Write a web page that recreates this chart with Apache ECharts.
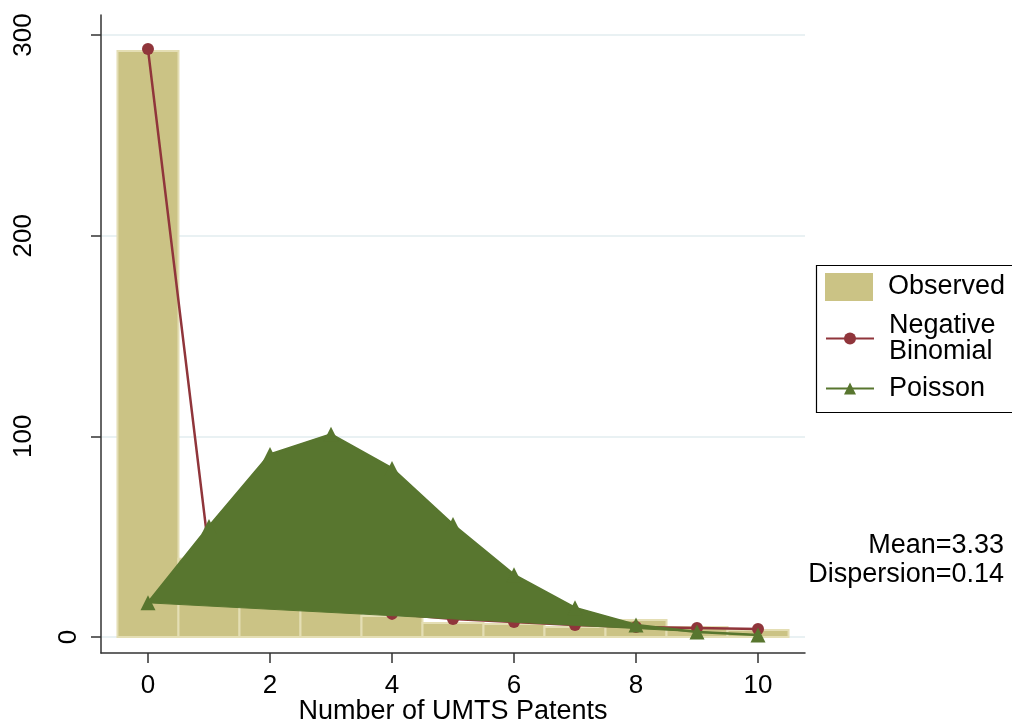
<!DOCTYPE html>
<html><head><meta charset="utf-8">
<script src="https://cdn.jsdelivr.net/npm/echarts@6/dist/echarts.min.js"></script>
<style>html,body{margin:0;padding:0;background:#fff}#c{width:1012px;height:723px}</style>
</head><body><div id="c"></div>
<script>
var counts = [0,1,2,3,4,5,6,7,8,9,10];
var observed = [292, 39, 22, 15, 10.5, 7, 6.5, 5, 8.5, 5, 3.5];
var negBinomial = [293, 42, 24, 16, 11.5, 9, 7.5, 6, 5, 4.5, 4];
var poisson = [17, 55, 91, 101, 84, 56, 31, 14.5, 6, 2.5, 1];
var xTicks = [0,2,4,6,8,10];
var yTicks = [0,100,200,300];
var notes = ['Mean=3.33', 'Dispersion=0.14'];

var FONT = 'Liberation Sans, Arial, sans-serif';
var TAN = '#cbc385', RED = '#90353b', GREEN = '#58762f', AXIS = '#333';

var chart = echarts.init(document.getElementById('c'));
chart.setOption({
  animation: false,
  textStyle: {fontFamily: FONT},
  grid: {left: 101, right: 207, top: 15, bottom: 70, outerBoundsMode: 'none', containLabel: false},
  xAxis: {
    type: 'value', min: -0.77, max: 10.77,
    name: 'Number of UMTS Patents', nameLocation: 'middle', nameGap: 45, nameMoveOverlap: false,
    nameTextStyle: {fontSize: 27, color: '#000', fontFamily: FONT},
    axisLine: {show: true, onZero: false, lineStyle: {color: AXIS, width: 1.5}},
    axisTick: {show: true, length: 10, customValues: xTicks, lineStyle: {color: AXIS, width: 1.5}},
    axisLabel: {customValues: xTicks, fontSize: 26, color: '#000', margin: 20, fontFamily: FONT},
    splitLine: {show: false}
  },
  yAxis: {
    type: 'value', min: -8, max: 310,
    axisLine: {show: true, onZero: false, lineStyle: {color: AXIS, width: 1.5}},
    axisTick: {show: true, length: 10, customValues: yTicks, lineStyle: {color: AXIS, width: 1.5}},
    axisLabel: {
      customValues: yTicks, color: '#000', rotate: 90, margin: 19, fontFamily: FONT,
      formatter: function (v) { return v === 0 ? '{z|0}' : '{o|' + v + '}'; },
      rich: {
        z: {fontSize: 26, fontFamily: FONT, color: '#000'},
        o: {fontSize: 26, fontFamily: FONT, color: '#000', padding: [0, 0, 45, 0]}
      }
    },
    splitLine: {show: true, lineStyle: {color: '#e9f1f3', width: 2}}
  },
  legend: [
    {
      orient: 'vertical', left: 825, top: 273, padding: 0,
      itemWidth: 48, itemHeight: 28,
      textStyle: {fontSize: 27, color: '#000', fontFamily: FONT, padding: [0, 0, 0, 10]},
      data: [{name: 'Observed', icon: 'rect'}]
    },
    {
      orient: 'vertical', left: 825, top: 312, padding: 0, itemGap: 10,
      itemWidth: 48, itemHeight: 15,
      textStyle: {fontSize: 27, color: '#000', fontFamily: FONT, lineHeight: 26, padding: [0, 0, 0, 10]},
      data: [{name: 'Negative\nBinomial'}, {name: 'Poisson'}]
    }
  ],
  graphic: [
    {
      type: 'rect', left: 814, top: 263, silent: true,
      shape: {width: 215, height: 147},
      style: {fill: 'none', stroke: '#000', lineWidth: 1.2}
    },
    {
      type: 'text', right: 8, top: 532,
      style: {text: notes[0], fontSize: 27, fontFamily: FONT, fill: '#000'}
    },
    {
      type: 'text', right: 8, top: 561,
      style: {text: notes[1], fontSize: 27, fontFamily: FONT, fill: '#000'}
    }
  ],
  series: [
    {
      name: 'Observed', type: 'custom', z: 1,
      itemStyle: {color: TAN},
      data: counts.map(function (c, i) { return [c, observed[i]]; }),
      renderItem: function (params, api) {
        var x = api.value(0), y = api.value(1);
        var p0 = api.coord([x - 0.5, 0]);
        var p1 = api.coord([x + 0.5, y]);
        return {
          type: 'rect',
          shape: {x: p0[0], y: p1[1], width: p1[0] - p0[0], height: p0[1] - p1[1]},
          style: {fill: TAN, stroke: '#e4deb4', lineWidth: 2}
        };
      }
    },
    {
      name: 'Negative\nBinomial', type: 'line', z: 2,
      data: counts.map(function (c, i) { return [c, negBinomial[i]]; }),
      symbol: 'circle', symbolSize: 12,
      lineStyle: {color: RED, width: 2.5},
      itemStyle: {color: RED}
    },
    {
      name: 'PoissonArea', type: 'custom', z: 3, silent: true,
      data: [[0, 0]],
      renderItem: function (params, api) {
        var pts = counts.map(function (c, i) { return api.coord([c, poisson[i]]); });
        return {type: 'polygon', shape: {points: pts}, style: {fill: GREEN, stroke: GREEN, lineWidth: 1}};
      }
    },
    {
      name: 'Poisson', type: 'line', z: 4,
      data: counts.map(function (c, i) { return [c, poisson[i]]; }),
      symbol: 'triangle', symbolSize: 15,
      lineStyle: {color: GREEN, width: 2.5},
      itemStyle: {color: GREEN}
    }
  ]
});
</script></body></html>
